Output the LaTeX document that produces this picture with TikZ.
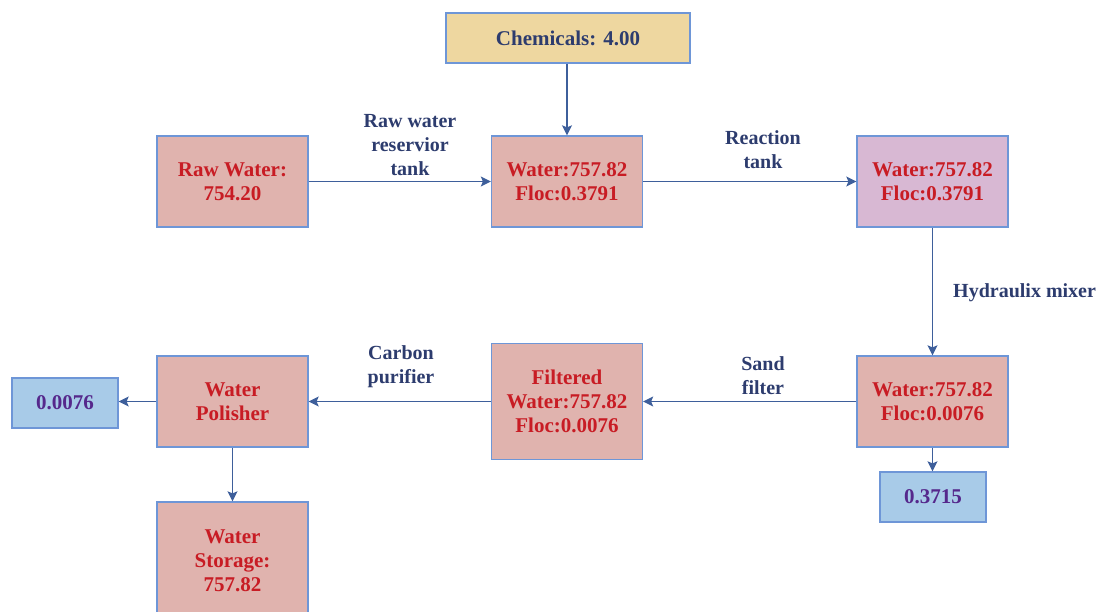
\documentclass[tikz,border=0pt]{standalone}
\usepackage{fontspec}
\setmainfont{Liberation Serif}
\usetikzlibrary{arrows.meta}
\definecolor{boxpink}{RGB}{224,179,174}
\definecolor{boxpurple}{RGB}{216,184,211}
\definecolor{boxyellow}{RGB}{238,215,160}
\definecolor{boxblue}{RGB}{168,203,232}
\definecolor{edgeblue}{RGB}{110,150,215}
\definecolor{txtred}{RGB}{200,28,36}
\definecolor{txtnavy}{RGB}{45,60,110}
\definecolor{txtpurple}{RGB}{85,40,140}
\definecolor{arrowblue}{RGB}{62,95,155}
\tikzset{
  box/.style={draw=edgeblue, line width=1.3pt, fill=boxpink, minimum width=151pt, minimum height=91pt, inner sep=0pt, align=center, font=\fontsize{21}{24}\selectfont\bfseries, text=txtred},
  smallbox/.style={draw=edgeblue, line width=1.3pt, fill=boxblue, minimum width=106pt, minimum height=50pt, inner sep=0pt, align=center, font=\fontsize{21}{24}\selectfont\bfseries, text=txtpurple},
  lbl/.style={align=center, font=\fontsize{20}{24}\selectfont\bfseries, text=txtnavy, inner sep=0pt},
  conn/.style={draw=arrowblue, line width=1.4pt, -{Stealth[length=10pt,width=10pt,inset=2pt]}}
}
\begin{document}
\begin{tikzpicture}[x=1pt,y=-1pt]
\useasboundingbox (0,0) rectangle (1096,612);
\begin{scope}
\clip (0,0) rectangle (1096,612);
\node[box, fill=boxyellow, text=txtnavy, minimum width=244pt, minimum height=50pt] (chem) at (568,38) {Chemicals: 4.00};
\node[box] (raw) at (232.5,181.5) {Raw Water:\\754.20};
\node[box] (mix) at (567,181.5) {Water:757.82\\Floc:0.3791};
\node[box, fill=boxpurple] (react) at (932.5,181.5) {Water:757.82\\Floc:0.3791};
\node[box] (settle) at (932.5,401.5) {Water:757.82\\Floc:0.0076};
\node[smallbox] (sludge) at (933,497) {0.3715};
\node[box, minimum height=116pt] (filt) at (567,401.5) {Filtered\\Water:757.82\\Floc:0.0076};
\node[box] (pol) at (232.5,401.5) {Water\\Polisher};
\node[smallbox] (waste) at (65,403) {0.0076};
\node[box, minimum height=118pt] (stor) at (232.5,561) {Water\\Storage:\\757.82};

\node[lbl] (l1) at (410,145) {Raw water\\reservior\\tank};
\node[lbl] (l2) at (763,150) {Reaction\\tank};
\node[lbl, anchor=west] (l3) at (953,293) {Hydraulix mixer};
\node[lbl] (l4) at (763,376) {Sand\\filter};
\node[lbl] (l5) at (401,367) {Carbon\\purifier};

\draw[conn] (mix.north |- chem.south) -- (mix.north);
\draw[conn] (raw.east) -- (mix.west);
\draw[conn] (mix.east) -- (react.west);
\draw[conn] (react.south) -- (settle.north);
\draw[conn] (settle.south) -- (settle.south |- sludge.north);
\draw[conn] (settle.west) -- (settle.west -| filt.east);
\draw[conn] (filt.west) -- (filt.west -| pol.east);
\draw[conn] (pol.west) -- (pol.west -| waste.east);
\draw[conn] (pol.south) -- (stor.north);
\end{scope}
\end{tikzpicture}
\end{document}
